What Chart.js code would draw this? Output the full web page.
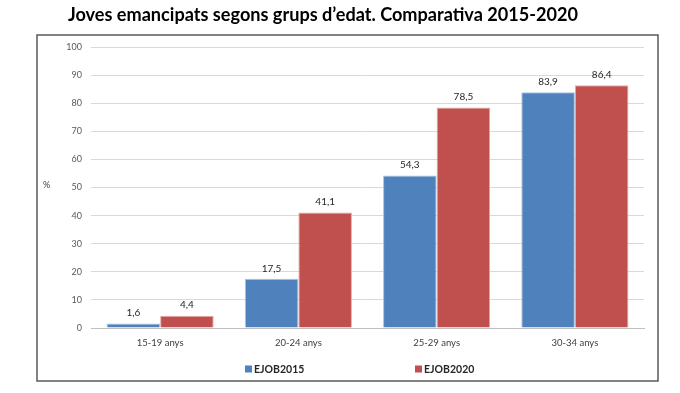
<!DOCTYPE html>
<html>
<head>
<meta charset="utf-8">
<script src="https://cdn.jsdelivr.net/npm/chart.js@4"></script>
<style>
html,body{margin:0;padding:0;background:#fff;}
#wrap{position:relative;width:680px;height:393px;}
</style>
</head>
<body>
<div id="wrap"><canvas id="c" width="680" height="393"></canvas></div>
<script>
const titleText = "Joves emancipats segons grups d\u2019edat. Comparativa 2015-2020";
const categories = ["15-19 anys", "20-24 anys", "25-29 anys", "30-34 anys"];
const seriesNames = ["EJOB2015", "EJOB2020"];
const values2015 = [1.6, 17.5, 54.3, 83.9];
const values2020 = [4.4, 41.1, 78.5, 86.4];
const yTicks = [0, 10, 20, 30, 40, 50, 60, 70, 80, 90, 100];
const yAxisLabel = "%";
const colors = ["#4F81BD", "#C0504D"];
const edgeColors = ["#a9c1df", "#e2aaa8"];

const FONT = "Lato, 'Open Sans', sans-serif";

const decor = {
  id: 'decor',
  beforeDraw(chart) {
    const ctx = chart.ctx;
    ctx.save();
    ctx.fillStyle = '#fff';
    ctx.fillRect(0, 0, chart.width, chart.height);
    ctx.strokeStyle = '#595959';
    ctx.lineWidth = 1.5;
    ctx.strokeRect(37, 35, 621, 346);
    // title
    ctx.fillStyle = '#000';
    ctx.font = "bold 17px " + FONT;
    const w = ctx.measureText(titleText).width;
    const size = 17 * 510 / w;
    ctx.font = "bold " + size.toFixed(2) + "px " + FONT;
    ctx.textAlign = 'center';
    ctx.textBaseline = 'middle';
    ctx.fillText(titleText, 323, 15);
    // y axis label
    ctx.font = "9px " + FONT;
    ctx.fillStyle = '#404040';
    ctx.fillText(yAxisLabel, 46.5, 185.5);
    ctx.restore();
  },
  afterDatasetsDraw(chart) {
    const ctx = chart.ctx;
    ctx.save();
    ctx.font = "10px " + FONT;
    ctx.fillStyle = '#262626';
    ctx.textAlign = 'center';
    ctx.textBaseline = 'middle';
    chart.data.datasets.forEach((ds, di) => {
      const meta = chart.getDatasetMeta(di);
      meta.data.forEach((bar, i) => {
        const txt = ds.data[i].toFixed(1).replace('.', ',');
        ctx.fillText(txt, bar.x, bar.y - 10.5);
      });
    });
    // legend
    const items = [{x: 245}, {x: 415}];
    ctx.font = "bold 10.5px " + FONT;
    ctx.textAlign = 'left';
    chart.data.datasets.forEach((ds, di) => {
      const it = items[di];
      ctx.fillStyle = ds.backgroundColor;
      ctx.fillRect(it.x, 365.5, 7, 7);
      ctx.fillStyle = '#262626';
      ctx.fillText(ds.label, it.x + 9, 369.5);
    });
    ctx.restore();
  }
};

new Chart(document.getElementById('c'), {
  type: 'bar',
  data: {
    labels: categories,
    datasets: [
      { label: seriesNames[0], data: values2015, backgroundColor: colors[0], borderColor: edgeColors[0], borderWidth: 1 },
      { label: seriesNames[1], data: values2020, backgroundColor: colors[1], borderColor: edgeColors[1], borderWidth: 1 }
    ]
  },
  options: {
    responsive: false,
    animation: false,
    devicePixelRatio: 1,
    layout: { padding: { left: 37, right: 36, top: 47, bottom: 39 } },
    plugins: { legend: { display: false }, title: { display: false }, tooltip: { enabled: false } },
    datasets: { bar: { categoryPercentage: 0.775, barPercentage: 1 } },
    scales: {
      x: {
        grid: { display: false, drawTicks: false },
        border: { display: true, color: '#bfbfbf', width: 1 },
        ticks: { color: '#404040', font: { family: FONT, size: 9.5 }, padding: 9 },
        afterFit(s) { s.height = 26; }
      },
      y: {
        min: 0, max: 100,
        afterBuildTicks(s) { s.ticks = yTicks.map(v => ({ value: v })); },
        grid: { color: '#d9d9d9', drawTicks: false, lineWidth: 1 },
        border: { display: false },
        ticks: { color: '#595959', font: { family: FONT, size: 9 }, padding: 9 },
        afterFit(s) { s.width = 54; }
      }
    }
  },
  plugins: [decor]
});
</script>
</body>
</html>
